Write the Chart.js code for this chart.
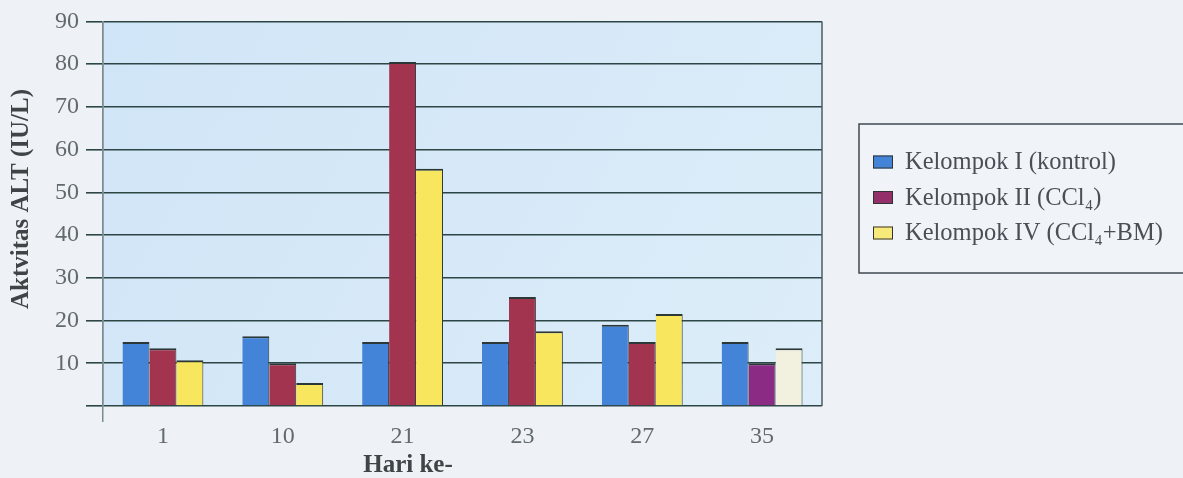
<!DOCTYPE html>
<html>
<head>
<meta charset="utf-8">
<script src="https://cdn.jsdelivr.net/npm/chart.js@4.4.1/dist/chart.umd.min.js"></script>
<style>
  html, body { margin: 0; padding: 0; background: #eef2f6; }
  #wrap { width: 1183px; height: 478px; position: relative; }
</style>
</head>
<body>
<div id="wrap"><canvas id="c" width="1183" height="478"></canvas></div>
<script>
// ---- data ----
const categories = ['1', '10', '21', '23', '27', '35'];
const seriesNames = ['Kelompok I (kontrol)', 'Kelompok II (CCl\u2084)', 'Kelompok IV (CCl\u2084+BM)'];
const kelompokI = [15, 16.3, 15, 15, 19, 15];
const kelompokII = [13.5, 10, 80.5, 25.5, 15, 10];
const kelompokIV = [10.7, 5.4, 55.5, 17.5, 21.5, 13.5];
const yTicks = [0, 10, 20, 30, 40, 50, 60, 70, 80, 90];
const yTitle = 'Aktvitas ALT (IU/L)';
const xTitle = 'Hari ke-';

// ---- styles ----
const blue = '#4384d8';
const maroon = '#a2344f';
const yellow = '#f7e65e';
const barColors = [
  categories.map(() => blue),
  categories.map((c, i) => i === 5 ? '#8b2b83' : maroon),
  categories.map((c, i) => i === 5 ? '#f2f0de' : yellow)
];
const legendColors = [blue, '#93306a', '#f8ea7a'];
const serif = '"Liberation Serif", "DejaVu Serif", serif';
const gridDark = '#2c4646';

const bgPlugin = {
  id: 'bg',
  beforeDraw(chart) {
    const { ctx, chartArea: a } = chart;
    ctx.save();
    ctx.fillStyle = '#eef2f6';
    ctx.fillRect(0, 0, chart.width, chart.height);
    const g = ctx.createLinearGradient(a.left, a.top, a.right, a.bottom);
    g.addColorStop(0, '#d0e5f7');
    g.addColorStop(1, '#ddedf9');
    ctx.fillStyle = g;
    ctx.fillRect(a.left, a.top, a.right - a.left, a.bottom - a.top);
    ctx.restore();
  },
  afterDraw(chart) {
    const { ctx, chartArea: a } = chart;
    ctx.save();
    // right border
    ctx.strokeStyle = '#4a5e62';
    ctx.lineWidth = 1.5;
    ctx.beginPath();
    ctx.moveTo(a.right, a.top);
    ctx.lineTo(a.right, a.bottom);
    ctx.stroke();
    // axis titles
    ctx.fillStyle = '#3f4447';
    ctx.font = 'bold 25px ' + serif;
    ctx.textAlign = 'center';
    ctx.textBaseline = 'middle';
    ctx.fillText(xTitle, 408, 466);
    ctx.save();
    ctx.translate(22, 199);
    ctx.rotate(-Math.PI / 2);
    ctx.fillText(yTitle, 0, 0);
    ctx.restore();
    // legend
    const lx = 859, ly = 124, lw = 400, lh = 149;
    ctx.fillStyle = '#f0f3f7';
    ctx.fillRect(lx, ly, lw, lh);
    ctx.strokeStyle = '#3e4a50';
    ctx.lineWidth = 1.5;
    ctx.strokeRect(lx, ly, lw, lh);
    ctx.font = '24.5px ' + serif;
    ctx.textAlign = 'left';
    chart.data.datasets.forEach((ds, i) => {
      const cy = 162 + i * 35.5;
      ctx.fillStyle = legendColors[i];
      ctx.fillRect(873, cy - 6.5, 20, 13);
      ctx.strokeStyle = '#333';
      ctx.lineWidth = 1;
      ctx.strokeRect(873.5, cy - 6, 19, 12);
      ctx.fillStyle = '#4a4f55';
      ctx.fillText(ds.label, 905, cy + 1);
    });
    ctx.restore();
  }
};

new Chart(document.getElementById('c'), {
  type: 'bar',
  data: {
    labels: categories,
    datasets: [
      { label: seriesNames[0], data: kelompokI, backgroundColor: barColors[0] },
      { label: seriesNames[1], data: kelompokII, backgroundColor: barColors[1] },
      { label: seriesNames[2], data: kelompokIV, backgroundColor: barColors[2] }
    ]
  },
  options: {
    responsive: false,
    devicePixelRatio: 1,
    animation: false,
    layout: { padding: { top: 20, right: 361, bottom: 0, left: 0 } },
    datasets: {
      bar: {
        categoryPercentage: 0.675,
        barPercentage: 1,
        borderColor: '#2c3838',
        borderWidth: { top: 2, right: 1, left: 0, bottom: 0 },
        borderSkipped: 'bottom'
      }
    },
    plugins: {
      legend: { display: false },
      tooltip: { enabled: false }
    },
    scales: {
      x: {
        afterFit(scale) { scale.height = 72; },
        grid: {
          offset: true,
          drawOnChartArea: true,
          tickLength: 16,
          lineWidth: 1.5,
          color: (ctx) => ctx.index === 0 ? '#7d8c90' : 'rgba(0,0,0,0)'
        },
        border: { display: false },
        ticks: {
          padding: 0,
          font: { family: serif, size: 24 },
          color: '#626a6e'
        }
      },
      y: {
        min: 0,
        max: 90,
        afterFit(scale) { scale.width = 103; },
        afterBuildTicks(scale) { scale.ticks = yTicks.map(v => ({ value: v })); },
        grid: {
          color: gridDark,
          lineWidth: 1.6,
          tickLength: 17
        },
        border: { display: true, color: '#7d8c90', width: 1.5 },
        ticks: {
          padding: 7,
          font: { family: serif, size: 24 },
          color: '#626a6e',
          callback: (v) => v === 0 ? '' : v
        }
      }
    }
  },
  plugins: [bgPlugin]
});
</script>
</body>
</html>
